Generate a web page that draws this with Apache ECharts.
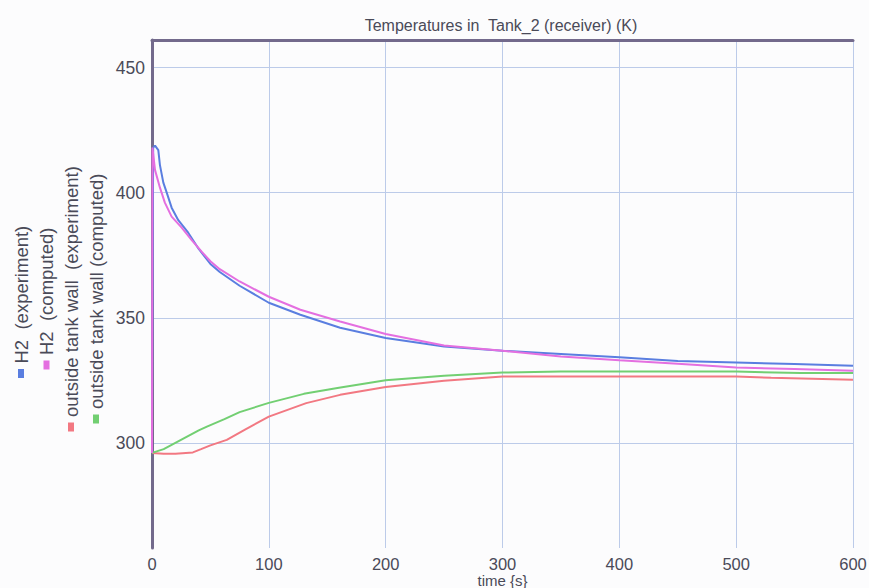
<!DOCTYPE html>
<html>
<head>
<meta charset="utf-8">
<script src="https://cdn.jsdelivr.net/npm/echarts@6/dist/echarts.min.js"></script>
<style>
  html, body { margin: 0; padding: 0; background: #fcfcfd; }
  #chart { width: 869px; height: 588px; }
</style>
</head>
<body>
<div id="chart"></div>
<script>
// Tank_2 (receiver) temperatures, K, against time in seconds
const h2ExpTime = [0, 1, 2.6, 5.4, 6.8, 9.7, 12.6, 16.8, 22.5, 31, 40, 50, 58, 75, 100, 127, 161, 200, 250, 300, 350, 400, 450, 500, 550, 600];
const h2ExpTemp = [310, 418, 418.8, 417, 411, 404, 400, 394, 389, 384, 377.5, 371.5, 368.3, 362.8, 356, 351.2, 346, 341.9, 338.5, 336.8, 335.5, 334.2, 332.7, 332.1, 331.5, 330.8];

const h2CompTime = [0, 0.4, 2.6, 6.8, 11, 16.8, 25.4, 34, 42.5, 50, 58, 75, 100, 127, 161, 200, 250, 300, 350, 400, 450, 500, 550, 600];
const h2CompTemp = [296, 418, 409, 402, 396, 390.4, 386, 381, 376.4, 372.6, 369.4, 364.5, 358.4, 353.2, 348.5, 343.5, 338.9, 336.8, 334.5, 333, 331.6, 330.1, 329.5, 328.8];

const wallExpTime = [0, 10, 20, 35, 42, 50, 64, 80, 100, 132, 161, 200, 250, 300, 400, 500, 530, 600];
const wallExpTemp = [296, 295.7, 295.7, 296.2, 297.5, 299, 301.2, 305.4, 310.5, 315.9, 319.2, 322.3, 324.8, 326.5, 326.5, 326.5, 326, 325.2];

const wallCompTime = [0, 10, 20, 30, 40, 47, 62, 75, 100, 130, 160, 200, 250, 300, 350, 400, 450, 500, 555, 600];
const wallCompTemp = [296, 297.5, 300, 302.5, 305, 306.5, 309.5, 312.3, 316, 319.6, 322, 325, 326.8, 328.1, 328.5, 328.5, 328.5, 328.5, 327.9, 327.9];

const seriesNames = ['H2  (experiment)', 'H2  (computed)', 'outside tank wall  (experiment)', 'outside tank wall (computed)'];
const seriesColors = ['#5a7ee0', '#e46fe0', '#f27882', '#72cf72'];

const chartTitle = 'Temperatures in  Tank_2 (receiver) (K)';
const xAxisTitle = 'time {s}';

function pairs(ts, vs) { return ts.map((t, i) => [t, vs[i]]); }

const seriesData = [
  pairs(h2ExpTime, h2ExpTemp),
  pairs(h2CompTime, h2CompTemp),
  pairs(wallExpTime, wallExpTemp),
  pairs(wallCompTime, wallCompTemp)
];

const font = 'Liberation Sans, Arial, sans-serif';
const textColor = '#4a4a58';
const gridColor = '#bccbe9';
const frameColor = '#736a8c';

// vertical legend on the left: marker first, text reading bottom-to-top
const legendX = [21, 46.5, 71, 96];
const legendMarkerY = [373.5, 365, 427, 419];
const legendGraphics = [];
seriesNames.forEach((name, i) => {
  legendGraphics.push({
    type: 'rect',
    shape: { x: legendX[i] - 3, y: legendMarkerY[i] - 4.5, width: 6, height: 9 },
    style: { fill: seriesColors[i] }
  });
  legendGraphics.push({
    type: 'text',
    x: legendX[i],
    y: legendMarkerY[i] - 10,
    rotation: Math.PI / 2,
    style: {
      text: name, fill: textColor, fontSize: 18.5, fontFamily: font,
      textAlign: 'left', textVerticalAlign: 'middle'
    }
  });
});

const chart = echarts.init(document.getElementById('chart'), null, { renderer: 'svg' });
chart.setOption({
  backgroundColor: '#fcfcfd',
  animation: false,
  grid: { left: 152, right: 16, top: 40, bottom: 40, containLabel: false, outerBoundsMode: 'none' },
  xAxis: [
    {
      type: 'value', min: 0, max: 600, interval: 100,
      position: 'bottom',
      name: xAxisTitle, nameLocation: 'middle', nameGap: 25, nameMoveOverlap: false,
      nameTextStyle: { color: textColor, fontSize: 15, fontFamily: font, lineHeight: 15 },
      axisLine: { show: false },
      axisTick: { show: false },
      axisLabel: { color: textColor, fontSize: 16.5, fontFamily: font, margin: 7, lineHeight: 17 },
      splitLine: { show: true, lineStyle: { color: gridColor, width: 1 } }
    },
    {
      type: 'value', min: 0, max: 600, position: 'top',
      axisLine: { show: true, onZero: false, lineStyle: { color: frameColor, width: 3 } },
      axisTick: { show: false }, axisLabel: { show: false }, splitLine: { show: false }
    }
  ],
  yAxis: {
    type: 'value', min: 258, max: 461, splitNumber: 4,
    axisLine: { show: true, onZero: false, lineStyle: { color: frameColor, width: 3 } },
    axisTick: { show: false },
    axisLabel: {
      color: textColor, fontSize: 17.5, fontFamily: font, margin: 7,
      showMinLabel: false, showMaxLabel: false
    },
    splitLine: { show: true, showMinLine: false, showMaxLine: false, lineStyle: { color: gridColor, width: 1 } }
  },
  series: seriesData.map((d, i) => ({
    type: 'line', name: seriesNames[i], data: d, xAxisIndex: 0,
    showSymbol: false, symbol: 'none', smooth: false,
    lineStyle: { color: seriesColors[i], width: 2 },
    itemStyle: { color: seriesColors[i] },
    z: [3, 4, 2, 2][i]
  })),
  graphic: [
    {
      type: 'text', x: 501, y: 25,
      style: { text: chartTitle, fill: textColor, fontSize: 16, fontFamily: font, textAlign: 'center', textVerticalAlign: 'middle' }
    }
  ].concat(legendGraphics)
});
</script>
</body>
</html>
